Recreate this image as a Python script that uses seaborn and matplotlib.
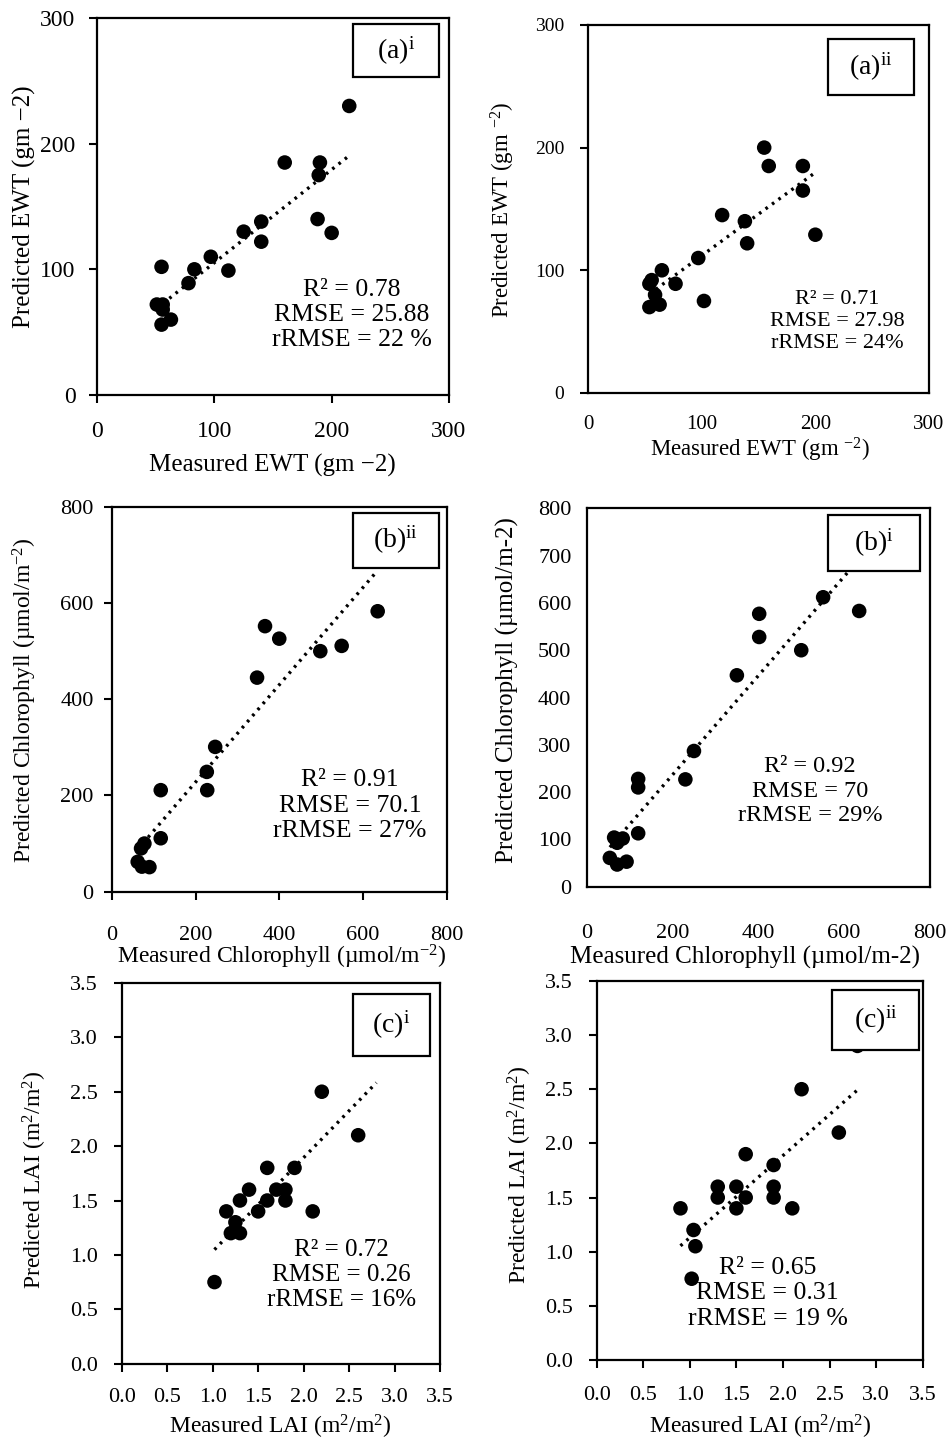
import matplotlib
matplotlib.use("Agg")
import matplotlib.pyplot as plt
from matplotlib.patches import Rectangle
import seaborn as sns
import pandas as pd

# EWT (gm-2), panel (a)i
ewt_i_meas = [215, 160, 190, 189, 188, 200, 140, 140, 125, 97, 112, 83, 78, 55, 51, 56, 56, 63, 55]
ewt_i_pred = [230, 185, 185, 175, 140, 129, 138, 122, 130, 110, 99, 100, 89, 102, 72, 72, 68, 60, 56]

# EWT, panel (a)ii
ewt_ii_meas = [155, 159, 189, 189, 200, 118, 138, 140, 97, 65, 77, 56, 54, 59, 63, 54, 102]
ewt_ii_pred = [200, 185, 185, 165, 129, 145, 140, 122, 110, 100, 89, 92, 89, 80, 72, 70, 75]

# Chlorophyll, panel (b)ii
chl_ii_meas = [635, 366, 400, 498, 549, 347, 247, 227, 228, 117, 117, 78, 70, 62, 72, 90]
chl_ii_pred = [583, 552, 526, 500, 511, 445, 301, 249, 211, 211, 111, 100, 90, 62, 52, 51]

# Chlorophyll, panel (b)i
chl_i_meas = [635, 551, 402, 402, 500, 350, 250, 230, 120, 120, 120, 64, 84, 71, 54, 71, 93]
chl_i_pred = [583, 612, 577, 528, 500, 447, 287, 227, 228, 210, 113, 104, 102, 93, 61, 47, 53]

# LAI, panel (c)i  (last point sits under the label box)
lai_i_meas = [2.2, 2.6, 1.6, 1.9, 1.4, 1.7, 1.8, 1.3, 1.6, 1.8, 1.15, 1.5, 2.1, 1.25, 1.2, 1.3, 1.02, 2.8]
lai_i_pred = [2.5, 2.1, 1.8, 1.8, 1.6, 1.6, 1.6, 1.5, 1.5, 1.5, 1.4, 1.4, 1.4, 1.3, 1.2, 1.2, 0.75, 2.95]

# LAI, panel (c)ii
lai_ii_meas = [2.8, 2.2, 2.6, 1.6, 1.9, 1.9, 1.9, 1.3, 1.3, 1.5, 1.6, 1.5, 2.1, 0.9, 1.04, 1.06, 1.02]
lai_ii_pred = [2.9, 2.5, 2.1, 1.9, 1.8, 1.6, 1.5, 1.6, 1.5, 1.6, 1.5, 1.4, 1.4, 1.4, 1.2, 1.05, 0.75]

stats_text = [
    "R² = 0.78\nRMSE = 25.88\nrRMSE = 22 %",
    "R² = 0.71\nRMSE = 27.98\nrRMSE = 24%",
    "R² = 0.91\nRMSE = 70.1\nrRMSE = 27%",
    "R² = 0.92\nRMSE = 70\nrRMSE = 29%",
    "R² = 0.72\nRMSE = 0.26\nrRMSE = 16%",
    "R² = 0.65\nRMSE = 0.31\nrRMSE = 19 %",
]
panel_tags = [r"(a)$^{\mathrm{i}}$", r"(a)$^{\mathrm{ii}}$", r"(b)$^{\mathrm{ii}}$",
              r"(b)$^{\mathrm{i}}$", r"(c)$^{\mathrm{i}}$", r"(c)$^{\mathrm{ii}}$"]
x_labels = ["Measured EWT (gm \u22122)", r"Measured EWT (gm $^{-2}$)",
            r"Measured Chlorophyll (µmol/m$^{-2}$)", "Measured Chlorophyll (µmol/m-2)",
            r"Measured LAI (m$^2$/m$^2$)", r"Measured LAI (m$^2$/m$^2$)"]
y_labels = ["Predicted EWT (gm \u22122)", r"Predicted EWT (gm $^{-2}$)",
            r"Predicted Chlorophyll (µmol/m$^{-2}$)", "Predicted Chlorophyll (µmol/m-2)",
            r"Predicted LAI (m$^2$/m$^2$)", r"Predicted LAI (m$^2$/m$^2$)"]

sns.set_theme(style="white")
plt.rcParams["font.family"] = ["Liberation Serif", "DejaVu Serif"]
plt.rcParams["mathtext.fontset"] = "custom"
plt.rcParams["mathtext.rm"] = "Liberation Serif"
plt.rcParams["mathtext.it"] = "Liberation Serif:italic"
plt.rcParams["mathtext.bf"] = "Liberation Serif:bold"

fig = plt.figure(figsize=(9.51, 14.4), dpi=100)

lai_ticks = [i * 0.5 for i in range(8)]

# 每个子图的位置、刻度、文字位置和字号
panels = [
    dict(x=ewt_i_meas, y=ewt_i_pred, rect=[0.1020, 0.7257, 0.3701, 0.2618], lim=300,
         xt=[0, 100, 200, 300], yt=[0, 100, 200, 300], fmt="{:.0f}", xfs=17, yfs=17,
         xtl=6, ytl=6, xpad=13, ypad=9.5, box=(0.727, 0.843, 0.245, 0.141), stat=(0.724, 0.212),
         stat_fs=18.5, lab_fs=18, xlab=(0.497, -0.186), ylab=(-0.205, 0.499)),
    dict(x=ewt_ii_meas, y=ewt_ii_pred, rect=[0.6183, 0.7271, 0.3586, 0.2556], lim=300,
         xt=[0, 100, 200, 300], yt=[0, 100, 200, 300], fmt="{:.0f}", xfs=15, yfs=14,
         xtl=0, ytl=6, xpad=16, ypad=11, box=(0.704, 0.810, 0.252, 0.152), stat=(0.730, 0.194),
         stat_fs=16, lab_fs=16.5, xlab=(0.504, -0.155), ylab=(-0.249, 0.497)),
    dict(x=chl_ii_meas, y=chl_ii_pred, rect=[0.1175, 0.3808, 0.3523, 0.2672], lim=800,
         xt=[0, 200, 400, 600, 800], yt=[0, 200, 400, 600, 800], fmt="{:.0f}", xfs=16, yfs=16,
         xtl=6, ytl=6, xpad=19, ypad=7, box=(0.719, 0.841, 0.259, 0.144), stat=(0.711, 0.223),
         stat_fs=18.5, lab_fs=17, xlab=(0.508, -0.170), ylab=(-0.259, 0.498)),
    dict(x=chl_i_meas, y=chl_i_pred, rect=[0.6169, 0.3842, 0.3610, 0.2628], lim=800,
         xt=[0, 200, 400, 600, 800], yt=list(range(0, 801, 100)), fmt="{:.0f}", xfs=16, yfs=16,
         xtl=0, ytl=0, xpad=27, ypad=11, box=(0.702, 0.834, 0.269, 0.148), stat=(0.650, 0.253),
         stat_fs=17.5, lab_fs=18, xlab=(0.461, -0.186), ylab=(-0.232, 0.520)),
    dict(x=lai_i_meas, y=lai_i_pred, rect=[0.1280, 0.0530, 0.3347, 0.2644], lim=3.5,
         xt=lai_ticks, yt=lai_ticks, fmt="{:.1f}", xfs=16, yfs=16,
         xtl=6, ytl=6, xpad=11.5, ypad=11, box=(0.726, 0.808, 0.243, 0.163), stat=(0.691, 0.233),
         stat_fs=18, lab_fs=17, xlab=(0.497, -0.166), ylab=(-0.272, 0.483)),
    dict(x=lai_ii_meas, y=lai_ii_pred, rect=[0.6274, 0.0556, 0.3428, 0.2632], lim=3.5,
         xt=lai_ticks, yt=lai_ticks, fmt="{:.1f}", xfs=16, yfs=16,
         xtl=6, ytl=6, xpad=13, ypad=11, box=(0.722, 0.818, 0.267, 0.158), stat=(0.525, 0.176),
         stat_fs=18.5, lab_fs=17, xlab=(0.501, -0.177), ylab=(-0.235, 0.488)),
]

for p, stat, tag, xl, yl in zip(panels, stats_text, panel_tags, x_labels, y_labels):
    ax = fig.add_axes(p["rect"])
    df = pd.DataFrame({"measured": p["x"], "predicted": p["y"]})

    # 趋势线 + 散点
    sns.regplot(data=df, x="measured", y="predicted", ax=ax, scatter=False, ci=None,
                truncate=True, line_kws=dict(color="black", linestyle=(0, (0.8, 1.6)),
                                             linewidth=2.4, zorder=2))
    sns.scatterplot(data=df, x="measured", y="predicted", ax=ax, color="black",
                    s=110, edgecolor="none", zorder=3)

    ax.set_xlim(0, p["lim"])
    ax.set_ylim(0, p["lim"])
    ax.set_xticks(p["xt"])
    ax.set_yticks(p["yt"])
    ax.set_xticklabels([p["fmt"].format(v) for v in p["xt"]], fontsize=p["xfs"])
    ax.set_yticklabels([p["fmt"].format(v) for v in p["yt"]], fontsize=p["yfs"])
    ax.tick_params(axis="x", direction="out", length=p["xtl"], width=1.5, pad=p["xpad"],
                   colors="black", bottom=True)
    ax.tick_params(axis="y", direction="out", length=p["ytl"], width=1.5, pad=p["ypad"],
                   colors="black", left=True)
    for s in ax.spines.values():
        s.set_color("black")
        s.set_linewidth(1.6)

    ax.set_xlabel(xl, fontsize=p["lab_fs"], color="black")
    ax.set_ylabel(yl, fontsize=p["lab_fs"], color="black")
    ax.xaxis.set_label_coords(*p["xlab"])
    ax.yaxis.set_label_coords(*p["ylab"])
    ax.xaxis.label.set_va("center")
    ax.yaxis.label.set_va("center")

    ax.text(p["stat"][0], p["stat"][1], stat, transform=ax.transAxes, ha="center",
            va="center", fontsize=p["stat_fs"], color="black", zorder=4)

    bx, by, bw, bh = p["box"]
    ax.add_patch(Rectangle((bx, by), bw, bh, transform=ax.transAxes, facecolor="white",
                           edgecolor="black", linewidth=1.6, zorder=5, clip_on=False))
    ax.text(bx + bw / 2, by + bh / 2, tag, transform=ax.transAxes, ha="center", va="center",
            fontsize=20, color="black", zorder=6)

fig.savefig("out.png", dpi=100)
plt.close(fig)
